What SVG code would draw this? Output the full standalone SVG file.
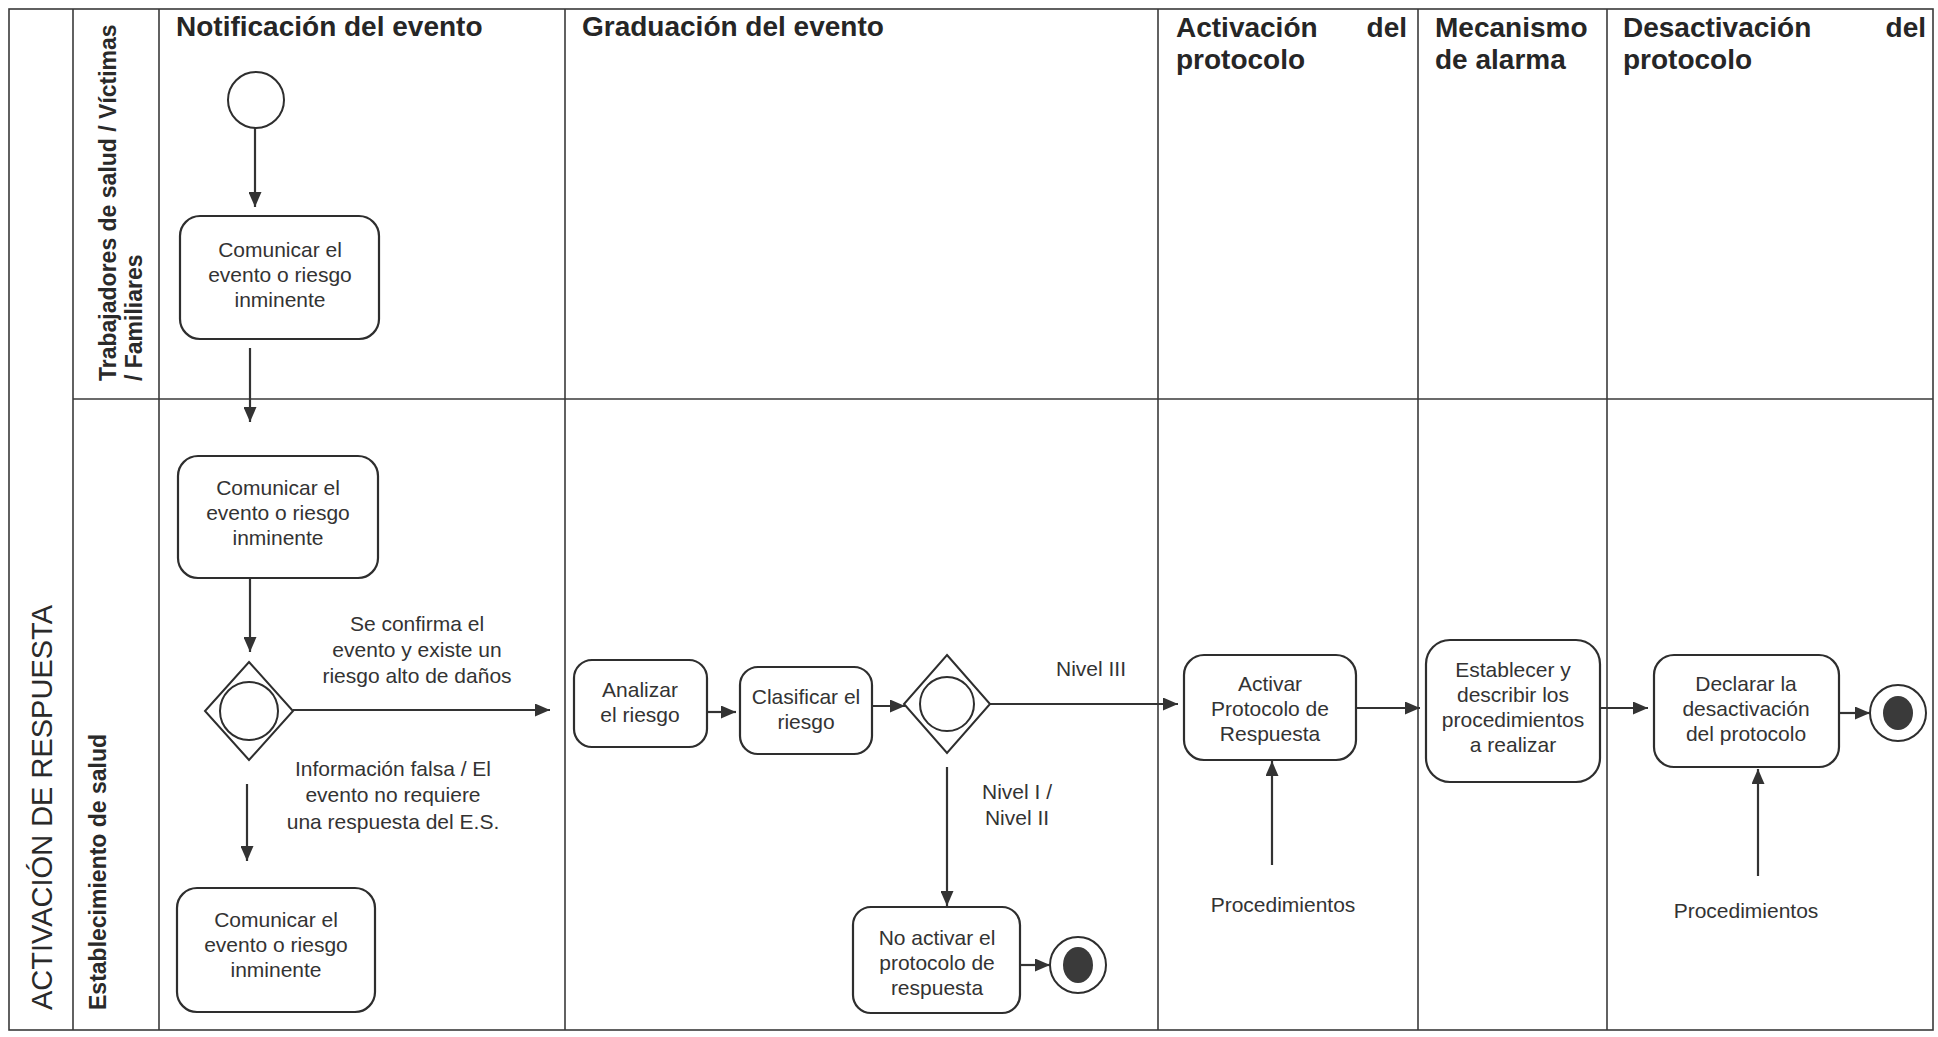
<svg xmlns="http://www.w3.org/2000/svg" width="1938" height="1037" viewBox="0 0 1938 1037">
<style>
.grid{stroke:#3a3a3a;stroke-width:1.6;fill:none}
.hdr{font-family:"Liberation Sans",Arial,sans-serif;font-size:28px;font-weight:bold;fill:#262626}
.lane{font-family:"Liberation Sans",Arial,sans-serif;font-weight:bold;fill:#2a2a2a}
.big{font-family:"Liberation Sans",Arial,sans-serif;font-size:29px;fill:#2a2a2a}
.box{fill:#fff;stroke:#2e2e2e;stroke-width:2.2}
.t{font-family:"Liberation Sans",Arial,sans-serif;font-size:21px;fill:#333;text-anchor:middle}
.lbl{font-family:"Liberation Sans",Arial,sans-serif;font-size:21px;fill:#333;text-anchor:middle}
.con{stroke:#333;stroke-width:2.2;fill:none;marker-end:url(#arr)}
.ring{fill:#fff;stroke:#2e2e2e;stroke-width:2}
.dot{fill:#3a3a3a}
</style>
<defs>
<marker id="arr" markerWidth="15" markerHeight="13" refX="15" refY="6.5" orient="auto" markerUnits="userSpaceOnUse">
<path d="M0,0 L15,6.5 L0,13 z" fill="#333"/>
</marker>
</defs>
<rect width="1938" height="1037" fill="#fff"/>
<g id="pool">
<rect class="grid" x="9" y="9" width="1924" height="1021"/>
<line class="grid" x1="73" y1="9" x2="73" y2="1030"/>
<line class="grid" x1="159" y1="9" x2="159" y2="1030"/>
<line class="grid" x1="565" y1="9" x2="565" y2="1030"/>
<line class="grid" x1="1158" y1="9" x2="1158" y2="1030"/>
<line class="grid" x1="1418" y1="9" x2="1418" y2="1030"/>
<line class="grid" x1="1607" y1="9" x2="1607" y2="1030"/>
<line class="grid" x1="73" y1="399" x2="1933" y2="399"/>
<text class="big" transform="translate(52,1010) rotate(-90)">ACTIVACIÓN DE RESPUESTA</text>
<text class="lane" font-size="23" transform="translate(116,381) rotate(-90)">Trabajadores de salud / Víctimas</text>
<text class="lane" font-size="23" transform="translate(142,381) rotate(-90)">/ Familiares</text>
<text class="lane" font-size="23" transform="translate(106,1010) rotate(-90)">Establecimiento de salud</text>
<text class="hdr" x="176" y="36">Notificación del evento</text>
<text class="hdr" x="582" y="36">Graduación del evento</text>
<text class="hdr" x="1176" y="37">Activación</text>
<text class="hdr" x="1407" y="37" text-anchor="end">del</text>
<text class="hdr" x="1176" y="69">protocolo</text>
<text class="hdr" x="1435" y="37">Mecanismo</text>
<text class="hdr" x="1435" y="69">de alarma</text>
<text class="hdr" x="1623" y="37">Desactivación</text>
<text class="hdr" x="1926" y="37" text-anchor="end">del</text>
<text class="hdr" x="1623" y="69">protocolo</text>
</g>
<g id="connectors">
<line class="con" x1="255" y1="128" x2="255" y2="207"/>
<line class="con" x1="250" y1="348" x2="250" y2="422"/>
<line class="con" x1="250" y1="579" x2="250" y2="652"/>
<line class="con" x1="293" y1="710" x2="550" y2="710"/>
<line class="con" x1="247" y1="784" x2="247" y2="861"/>
<line class="con" x1="707" y1="712" x2="736" y2="712"/>
<line class="con" x1="872" y1="706" x2="905" y2="706"/>
<line class="con" x1="990" y1="704" x2="1178" y2="704"/>
<line class="con" x1="947" y1="767" x2="947" y2="906"/>
<line class="con" x1="1020" y1="965" x2="1050" y2="965"/>
<line class="con" x1="1356" y1="708" x2="1420" y2="708"/>
<line class="con" x1="1272" y1="865" x2="1272" y2="761"/>
<line class="con" x1="1600" y1="708" x2="1648" y2="708"/>
<line class="con" x1="1758" y1="876" x2="1758" y2="769"/>
<line class="con" x1="1839" y1="713" x2="1870" y2="713"/>
<text class="lbl" x="417" y="631">Se confirma el</text>
<text class="lbl" x="417" y="657">evento y existe un</text>
<text class="lbl" x="417" y="683">riesgo alto de daños</text>
<text class="lbl" x="393" y="776">Información falsa / El</text>
<text class="lbl" x="393" y="802">evento no requiere</text>
<text class="lbl" x="393" y="829">una respuesta del E.S.</text>
<text class="lbl" x="1091" y="676">Nivel III</text>
<text class="lbl" x="1017" y="799">Nivel I /</text>
<text class="lbl" x="1017" y="825">Nivel II</text>
<text class="lbl" x="1283" y="912">Procedimientos</text>
<text class="lbl" x="1746" y="918">Procedimientos</text>
</g>
<g id="start">
<circle class="ring" cx="256" cy="100" r="28"/>
</g>
<g id="comunicar1">
<rect class="box" x="180" y="216" width="199" height="123" rx="20"/>
<text class="t" x="280" y="257">Comunicar el</text>
<text class="t" x="280" y="282">evento o riesgo</text>
<text class="t" x="280" y="307">inminente</text>
</g>
<g id="comunicar2">
<rect class="box" x="178" y="456" width="200" height="122" rx="20"/>
<text class="t" x="278" y="495">Comunicar el</text>
<text class="t" x="278" y="520">evento o riesgo</text>
<text class="t" x="278" y="545">inminente</text>
</g>
<g id="decision1">
<polygon class="ring" points="249,662 293,711 249,760 205,711"/>
<circle class="ring" cx="249" cy="711" r="29"/>
</g>
<g id="comunicar3">
<rect class="box" x="177" y="888" width="198" height="124" rx="20"/>
<text class="t" x="276" y="927">Comunicar el</text>
<text class="t" x="276" y="952">evento o riesgo</text>
<text class="t" x="276" y="977">inminente</text>
</g>
<g id="analizar">
<rect class="box" x="574" y="660" width="133" height="87" rx="18"/>
<text class="t" x="640" y="697">Analizar</text>
<text class="t" x="640" y="722">el riesgo</text>
</g>
<g id="clasificar">
<rect class="box" x="740" y="667" width="132" height="87" rx="18"/>
<text class="t" x="806" y="704">Clasificar el</text>
<text class="t" x="806" y="729">riesgo</text>
</g>
<g id="decision2">
<polygon class="ring" points="947,655 990,704 947,753 904,704"/>
<circle class="ring" cx="947" cy="704" r="27"/>
</g>
<g id="noactivar">
<rect class="box" x="853" y="907" width="167" height="106" rx="18"/>
<text class="t" x="937" y="945">No activar el</text>
<text class="t" x="937" y="970">protocolo de</text>
<text class="t" x="937" y="995">respuesta</text>
</g>
<g id="end1">
<circle class="ring" cx="1078" cy="965" r="28"/>
<ellipse class="dot" cx="1078" cy="965" rx="15" ry="18"/>
</g>
<g id="activar">
<rect class="box" x="1184" y="655" width="172" height="105" rx="20"/>
<text class="t" x="1270" y="691">Activar</text>
<text class="t" x="1270" y="716">Protocolo de</text>
<text class="t" x="1270" y="741">Respuesta</text>
</g>
<g id="establecer">
<rect class="box" x="1426" y="640" width="174" height="142" rx="24"/>
<text class="t" x="1513" y="677">Establecer y</text>
<text class="t" x="1513" y="702">describir los</text>
<text class="t" x="1513" y="727">procedimientos</text>
<text class="t" x="1513" y="752">a realizar</text>
</g>
<g id="declarar">
<rect class="box" x="1654" y="655" width="185" height="112" rx="20"/>
<text class="t" x="1746" y="691">Declarar la</text>
<text class="t" x="1746" y="716">desactivación</text>
<text class="t" x="1746" y="741">del protocolo</text>
</g>
<g id="end2">
<circle class="ring" cx="1898" cy="713" r="28"/>
<ellipse class="dot" cx="1898" cy="713" rx="15" ry="17"/>
</g>
</svg>
